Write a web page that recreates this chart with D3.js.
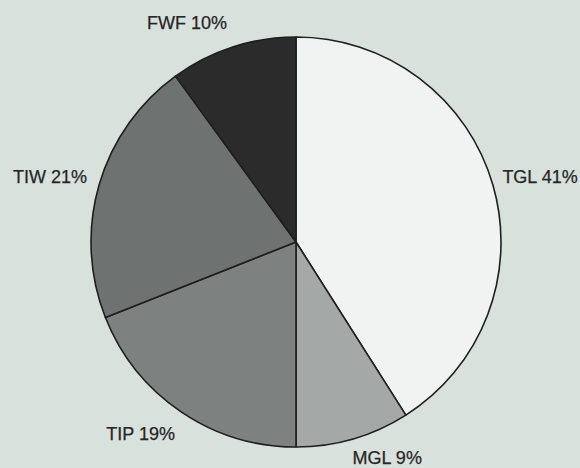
<!DOCTYPE html>
<html>
<head>
<meta charset="utf-8">
<script src="https://cdn.jsdelivr.net/npm/d3@7"></script>
<style>
    body { margin: 0; background: #d9e1dd; }
    svg { display: block; }
    .label { font-family: "Liberation Sans", Arial, sans-serif; font-size: 18px; fill: #262626; stroke: #262626; stroke-width: 0.25px; }
</style>
</head>
<body>
<svg id="chart" width="580" height="468"></svg>
<script>
var categories = ['TGL', 'MGL', 'TIP', 'TIW', 'FWF'];
var shares = [41, 9, 19, 21, 10];
var fills = ['#f0f3f1', '#a4a8a6', '#7d817f', '#6e7270', '#2b2b2b'];

// small hand tweaks so the labels sit where the original has them
var labelNudge = [[-2, 1.5], [-4, 13.5], [1, 18.5], [-0.7, 1.5], [-2, -6.6]];

var width = 580,
    height = 468,
    cx = 296,
    cy = 242,
    radius = 205;

var svg = d3.select('#chart');

var slices = categories.map(function(name, i) {
    return {name: name, value: shares[i], fill: fills[i], nudge: labelNudge[i]};
});

var pie = d3.pie()
    .sort(null)
    .value(function(d) { return d.value; });

var arc = d3.arc()
    .innerRadius(0)
    .outerRadius(radius);

var g = svg.append('g')
    .attr('transform', 'translate(' + cx + ',' + cy + ')');

var arcs = pie(slices);

g.selectAll('path')
    .data(arcs)
    .enter()
    .append('path')
    .attr('d', arc)
    .attr('fill', function(d) { return d.data.fill; })
    .attr('stroke', '#1e1e1e')
    .attr('stroke-width', 1.6)
    .attr('stroke-linejoin', 'round');

var labelR = radius + 12;

g.selectAll('text')
    .data(arcs)
    .enter()
    .append('text')
    .attr('class', 'label')
    .attr('x', function(d) {
        var a = (d.startAngle + d.endAngle) / 2;
        return labelR * Math.sin(a) + d.data.nudge[0];
    })
    .attr('y', function(d) {
        var a = (d.startAngle + d.endAngle) / 2;
        return -labelR * Math.cos(a) + d.data.nudge[1];
    })
    .attr('text-anchor', function(d) {
        var a = (d.startAngle + d.endAngle) / 2;
        return a < Math.PI ? 'start' : 'end';
    })
    .text(function(d) { return d.data.name + ' ' + d.data.value + '%'; });
</script>
</body>
</html>
